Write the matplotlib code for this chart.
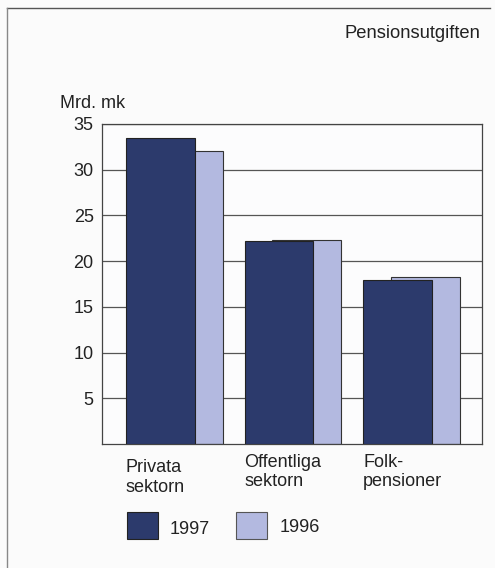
import matplotlib.pyplot as plt
import numpy as np
from matplotlib.patches import Rectangle

categories = ['Privata\nsektorn', 'Offentliga\nsektorn', 'Folk-\npensioner']
values_1997 = [33.5, 22.2, 17.9]
values_1996 = [32.1, 22.3, 18.3]
yticks = [5, 10, 15, 20, 25, 30, 35]

dark = '#2c3a6c'
light = '#b3b9e0'
bg = '#fbfbfb'

plt.rcParams['font.family'] = ['Liberation Sans', 'DejaVu Sans']

fig = plt.figure(figsize=(4.95, 5.68), dpi=100)
fig.patch.set_facecolor(bg)
ax = fig.add_axes([102 / 495, 124 / 568, 380 / 495, 320 / 568])
ax.set_facecolor('#fcfcfd')

x = np.arange(len(categories))
w = 0.58
off = 0.235
ax.bar(x + off, values_1996, width=w, align='edge', color=light,
       edgecolor='#333333', linewidth=0.8, zorder=2)
ax.bar(x, values_1997, width=w, align='edge', color=dark,
       edgecolor='#222222', linewidth=0.8, zorder=3)

for t in yticks:
    ax.axhline(t, color='#555555', linewidth=0.9, zorder=1)

ax.set_xlim(-0.2, 3.0)
ax.set_ylim(0, 35)
ax.set_yticks(yticks)
ax.set_xticks([])
ax.tick_params(axis='y', length=0, pad=6, labelsize=13, colors='#222222')
for s in ['left', 'top', 'bottom', 'right']:
    ax.spines[s].set_color('#444444')
    ax.spines[s].set_linewidth(0.9)

# category labels under bars
for i, lab in enumerate(categories):
    ax.annotate(lab, xy=(x[i], 0), xycoords='data', xytext=(0, -11 + (4 if i > 0 else 0)),
                textcoords='offset points', ha='left', va='top', fontsize=13,
                color='#222222', linespacing=1.2)

fig.text(60 / 495, 1 - 103 / 568, 'Mrd. mk', fontsize=13, va='center', ha='left', color='#222222')
fig.text(480 / 495, 1 - 33 / 568, 'Pensionsutgiften', fontsize=13.2, va='center', ha='right', color='#222222')

# legend
fig.patches.append(Rectangle((127 / 495, 1 - 539 / 568), 31 / 495, 27 / 568, transform=fig.transFigure,
                             facecolor=dark, edgecolor='#222222', linewidth=0.8))
fig.text(170 / 495, 1 - 529 / 568, '1997', fontsize=13, va='center', ha='left', color='#222222')
fig.patches.append(Rectangle((236 / 495, 1 - 539 / 568), 31 / 495, 27 / 568, transform=fig.transFigure,
                             facecolor=light, edgecolor='#555555', linewidth=0.8))
fig.text(280 / 495, 1 - 527 / 568, '1996', fontsize=13, va='center', ha='left', color='#222222')

# frame lines
fig.add_artist(plt.Line2D([7 / 495, 490 / 495], [1 - 8 / 568, 1 - 8 / 568], transform=fig.transFigure,
                          color='#555555', linewidth=1.0))
fig.add_artist(plt.Line2D([7 / 495, 7 / 495], [0, 1 - 8 / 568], transform=fig.transFigure,
                          color='#888888', linewidth=1.0))

fig.savefig('out.png', dpi=100, facecolor=bg)
